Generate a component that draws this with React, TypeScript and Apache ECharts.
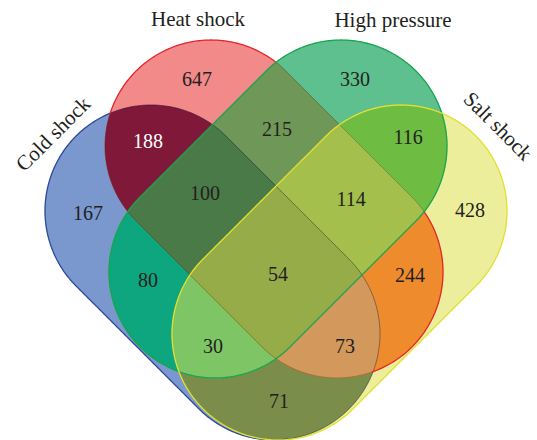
import React, { useEffect, useRef } from "react";
import * as echarts from "echarts";

// ---- data ----
const setNames = ["Cold shock", "Heat shock", "High pressure", "Salt shock"];
// regions as set membership (0 Cold, 1 Heat, 2 High pressure, 3 Salt)
const regionSets: number[][] = [
  [0], [1], [2], [3],
  [0, 1], [0, 2], [0, 3], [1, 2], [1, 3], [2, 3],
  [0, 1, 2], [0, 1, 3], [0, 2, 3], [1, 2, 3],
  [0, 1, 2, 3],
];
const regionValues = [167, 647, 330, 428, 188, 80, 71, 215, 244, 116, 100, 73, 30, 114, 54];

// ---- layout (label anchors, shape geometry, styles) ----
const labelX = [88, 197, 355, 470, 148, 148, 279, 277, 410, 408, 205, 345, 213, 351, 278];
const labelY = [213, 79, 79, 210, 141, 280, 401, 129, 275, 137, 193, 346, 346, 199, 274];
const regionColors = [
  "#7A97CE", "#F28A8A", "#5EC08E", "#EDEE9C",
  "#80183A", "#0EA67E", "#7A8D4B", "#6F9758", "#EE8B2D", "#6EBC42",
  "#4A7A48", "#D2985C", "#7EC565", "#A4BF4B",
  "#96AC48",
];
const labelColors = regionValues.map((_, i) => (i === 4 ? "#FFFFFF" : "#231F20"));
const shapeEnds: number[][][] = [
  [[151, 211], [274, 334]],
  [[211, 146], [337, 272]],
  [[341, 146], [215, 272]],
  [[401, 211], [278, 334]],
];
const R = 106;
const strokeColors = ["#2E4A9E", "#E5262E", "#18A54F", "#E2E02E"];
const faintColors = ["rgba(15,20,40,0.45)", "rgba(70,25,20,0.35)", "#18A54F", "#E2E02E"];
// which other shapes make an outline faint when it runs inside them
const fadeBy: number[][] = [[1, 2, 3], [0, 2], [], []];

type P = [number, number];

function capsule(c1: number[], c2: number[], r: number, n = 72): P[] {
  const dx = c2[0] - c1[0];
  const dy = c2[1] - c1[1];
  const a = Math.atan2(dy, dx);
  const pts: P[] = [];
  for (let i = 0; i <= n; i++) {
    const t = a - Math.PI / 2 + (Math.PI * i) / n;
    pts.push([c2[0] + r * Math.cos(t), c2[1] + r * Math.sin(t)]);
  }
  for (let i = 0; i <= n; i++) {
    const t = a + Math.PI / 2 + (Math.PI * i) / n;
    pts.push([c1[0] + r * Math.cos(t), c1[1] + r * Math.sin(t)]);
  }
  return pts;
}

function inCapsule(p: P, k: number): boolean {
  const [c1, c2] = shapeEnds[k];
  const dx = c2[0] - c1[0];
  const dy = c2[1] - c1[1];
  let t = ((p[0] - c1[0]) * dx + (p[1] - c1[1]) * dy) / (dx * dx + dy * dy);
  t = Math.max(0, Math.min(1, t));
  const qx = c1[0] + t * dx - p[0];
  const qy = c1[1] + t * dy - p[1];
  return Math.sqrt(qx * qx + qy * qy) < R - 0.5;
}

function area(poly: P[]): number {
  let s = 0;
  for (let i = 0; i < poly.length; i++) {
    const p = poly[i];
    const q = poly[(i + 1) % poly.length];
    s += p[0] * q[1] - q[0] * p[1];
  }
  return s / 2;
}

function clip(subject: P[], clipper: P[]): P[] {
  const sgn = area(clipper) >= 0 ? 1 : -1;
  let out = subject;
  for (let i = 0; i < clipper.length; i++) {
    const a = clipper[i];
    const b = clipper[(i + 1) % clipper.length];
    const inside = (p: P) => sgn * ((b[0] - a[0]) * (p[1] - a[1]) - (b[1] - a[1]) * (p[0] - a[0])) >= 0;
    const inter = (p: P, q: P): P => {
      const x1 = p[0], y1 = p[1], x2 = q[0], y2 = q[1];
      const x3 = a[0], y3 = a[1], x4 = b[0], y4 = b[1];
      const den = (x1 - x2) * (y3 - y4) - (y1 - y2) * (x3 - x4);
      if (Math.abs(den) < 1e-12) return p;
      const t = ((x1 - x3) * (y3 - y4) - (y1 - y3) * (x3 - x4)) / den;
      return [x1 + t * (x2 - x1), y1 + t * (y2 - y1)];
    };
    const input = out;
    out = [];
    if (input.length === 0) break;
    for (let j = 0; j < input.length; j++) {
      const cur = input[j];
      const prev = input[(j + input.length - 1) % input.length];
      const cIn = inside(cur);
      const pIn = inside(prev);
      if (cIn) {
        if (!pIn) out.push(inter(prev, cur));
        out.push(cur);
      } else if (pIn) {
        out.push(inter(prev, cur));
      }
    }
  }
  return out;
}

// densify a closed polygon so outline pieces can be classified finely
function densify(poly: P[], step = 2): P[] {
  const out: P[] = [];
  for (let i = 0; i < poly.length; i++) {
    const p = poly[i];
    const q = poly[(i + 1) % poly.length];
    const d = Math.hypot(q[0] - p[0], q[1] - p[1]);
    const n = Math.max(1, Math.ceil(d / step));
    for (let k = 0; k < n; k++) out.push([p[0] + ((q[0] - p[0]) * k) / n, p[1] + ((q[1] - p[1]) * k) / n]);
  }
  return out;
}

const shapes: P[][] = shapeEnds.map((e) => capsule(e[0], e[1], R));
const regionPolys: P[][] = regionSets.map((s) => {
  let poly = shapes[s[0]];
  for (let k = 1; k < s.length; k++) poly = clip(poly, shapes[s[k]]);
  return poly;
});

// outline pieces: [shapeIndex, faint?, points]
const outlinePieces: { k: number; faint: boolean; pts: P[] }[] = [];
shapes.forEach((sh, k) => {
  const d = densify(sh);
  let cur: P[] = [];
  let curFaint: boolean | null = null;
  for (let i = 0; i < d.length; i++) {
    const p = d[i];
    const q = d[(i + 1) % d.length];
    const m: P = [(p[0] + q[0]) / 2, (p[1] + q[1]) / 2];
    const faint = fadeBy[k].some((j) => inCapsule(m, j));
    if (curFaint === null || faint !== curFaint) {
      if (cur.length > 1) outlinePieces.push({ k, faint: !!curFaint, pts: cur });
      cur = [p];
      curFaint = faint;
    }
    cur.push(q);
  }
  if (cur.length > 1) outlinePieces.push({ k, faint: !!curFaint, pts: cur });
});

const titleFont = "Liberation Serif";

export default function App() {
  const ref = useRef<HTMLDivElement>(null);
  useEffect(() => {
    if (!ref.current) return;
    const chart = echarts.init(ref.current, undefined, { renderer: "svg" });
    chart.setOption({
      animation: false,
      backgroundColor: "#FFFFFF",
      grid: { left: 0, right: 0, top: 0, bottom: 0 },
      xAxis: { type: "value", min: 0, max: 537, show: false },
      yAxis: { type: "value", min: 0, max: 440, inverse: true, show: false },
      series: [
        {
          type: "custom",
          silent: true,
          data: regionValues.map((v, i) => [labelX[i], labelY[i], v]),
          renderItem: (params: any, api: any) => {
            const i = params.dataIndex;
            const pts = regionPolys[i].map((p) => api.coord(p));
            return {
              type: "polygon",
              shape: { points: pts },
              style: { fill: regionColors[i], stroke: regionColors[i], lineWidth: 0.4 },
            };
          },
        },
        {
          type: "custom",
          silent: true,
          data: outlinePieces.map((o, i) => [o.pts[0][0], o.pts[0][1], i]),
          renderItem: (params: any, api: any) => {
            const o = outlinePieces[params.dataIndex];
            const pts = o.pts.map((p) => api.coord(p));
            return {
              type: "polyline",
              shape: { points: pts },
              style: {
                fill: "none",
                stroke: o.faint ? faintColors[o.k] : strokeColors[o.k],
                lineWidth: o.faint ? 0.9 : 1.3,
              },
              z2: o.faint ? 1 : 2 + o.k,
            };
          },
        },
        {
          type: "custom",
          silent: true,
          data: regionValues.map((v, i) => [labelX[i], labelY[i], v]),
          renderItem: (params: any, api: any) => {
            const i = params.dataIndex;
            const c = api.coord([api.value(0), api.value(1)]);
            return {
              type: "text",
              x: c[0],
              y: c[1],
              style: {
                text: String(api.value(2)),
                fill: labelColors[i],
                fontSize: 20,
                fontFamily: titleFont,
                align: "center",
                verticalAlign: "middle",
              },
            };
          },
        },
      ],
      graphic: [
        { type: "text", x: 198, y: 19, style: { text: setNames[1], fill: "#231F20", fontSize: 21, fontFamily: titleFont, align: "center", verticalAlign: "middle" } },
        { type: "text", x: 393, y: 20, style: { text: setNames[2], fill: "#231F20", fontSize: 21, fontFamily: titleFont, align: "center", verticalAlign: "middle" } },
        { type: "text", x: 53, y: 134, rotation: Math.PI / 4, style: { text: setNames[0], fill: "#231F20", fontSize: 21, fontFamily: titleFont, align: "center", verticalAlign: "middle" } },
        { type: "text", x: 498, y: 126, rotation: -Math.PI / 4, style: { text: setNames[3], fill: "#231F20", fontSize: 21, fontFamily: titleFont, align: "center", verticalAlign: "middle" } },
      ],
    });
    return () => chart.dispose();
  }, []);
  return <div ref={ref} style={{ position: "fixed", left: 0, top: 0, width: 537, height: 440 }} />;
}
